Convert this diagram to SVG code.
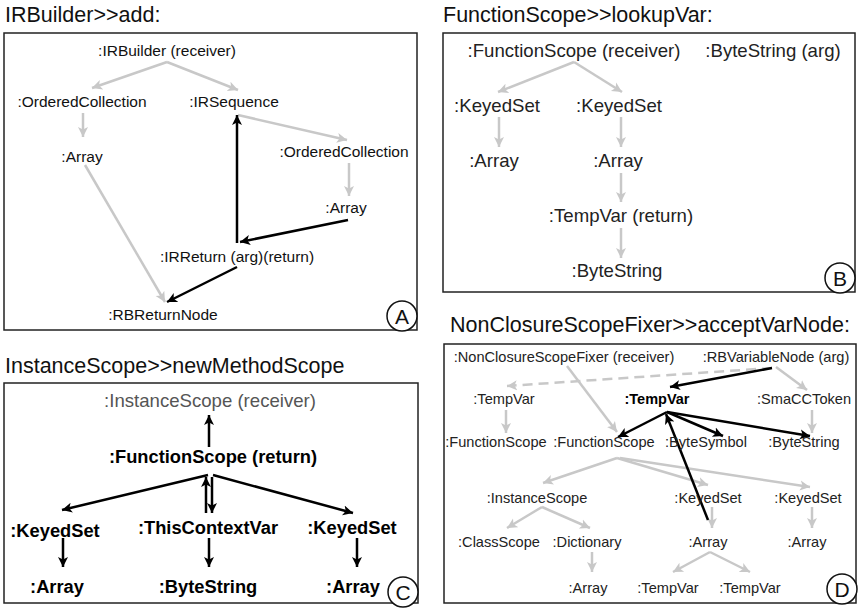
<svg xmlns="http://www.w3.org/2000/svg" width="859" height="608" viewBox="0 0 859 608">
<style>
.title{font-family:"Liberation Sans",Arial,sans-serif;font-size:21.5px;fill:#111}
.box{fill:#fff;stroke:#222;stroke-width:1.5}
.a{font-family:"Liberation Sans",Arial,sans-serif;font-size:15.5px;fill:#111;text-anchor:middle}
.b{font-family:"Liberation Sans",Arial,sans-serif;font-size:18.6px;fill:#222;text-anchor:middle}
.cr{font-family:"Liberation Sans",Arial,sans-serif;font-size:18.6px;fill:#555;text-anchor:middle}
.cb{font-family:"Liberation Sans",Arial,sans-serif;font-size:18.3px;font-weight:bold;fill:#000;text-anchor:middle}
.d{font-family:"Liberation Sans",Arial,sans-serif;font-size:14.6px;fill:#222;text-anchor:middle}
.db{font-family:"Liberation Sans",Arial,sans-serif;font-size:14.5px;font-weight:bold;fill:#000;text-anchor:middle}
.g{fill:none;stroke:#c8c8c8;stroke-width:2.5;marker-end:url(#ag)}
.gd{fill:none;stroke:#c8c8c8;stroke-width:2.5;stroke-dasharray:10,6;marker-end:url(#ag)}
.k{fill:none;stroke:#000;stroke-width:2.5;marker-end:url(#ak)}
.circ{fill:#fff;stroke:#111;stroke-width:1.5}
.lab{font-family:"Liberation Sans",Arial,sans-serif;font-size:21px;fill:#111;text-anchor:middle}
</style>
<defs>
<marker id="ag" markerUnits="userSpaceOnUse" markerWidth="12" markerHeight="12" refX="10" refY="5" orient="auto" viewBox="0 0 12 10">
<path d="M0,0 L10,5 L0,10 L2.5,5 z" fill="#c8c8c8"/>
</marker>
<marker id="ak" markerUnits="userSpaceOnUse" markerWidth="12" markerHeight="12" refX="10" refY="5" orient="auto" viewBox="0 0 12 10">
<path d="M0,0 L10,5 L0,10 L2.5,5 z" fill="#000"/>
</marker>
</defs>
<rect width="859" height="608" fill="#fff"/>

<!-- Panel frames and titles -->
<g id="panel-a">
<text class="title" x="5" y="22">IRBuilder&gt;&gt;add:</text>
<rect class="box" x="4" y="33" width="413" height="297"/>
</g>
<g id="panel-b">
<text class="title" x="443" y="22">FunctionScope&gt;&gt;lookupVar:</text>
<rect class="box" x="443" y="33" width="412" height="259"/>
</g>
<g id="panel-c">
<text class="title" x="5" y="373">InstanceScope&gt;&gt;newMethodScope</text>
<rect class="box" x="4" y="383" width="414" height="220"/>
</g>
<g id="panel-d">
<text class="title" x="450" y="332">NonClosureScopeFixer&gt;&gt;acceptVarNode:</text>
<rect class="box" x="444" y="344" width="412" height="259"/>
</g>

<g id="connectors">
<!-- A -->
<path class="g" d="M167,62 L92,88"/>
<path class="g" d="M167,62 L238,90"/>
<path class="g" d="M83,113 L83,137"/>
<path class="g" d="M238,115 L347,140"/>
<path class="g" d="M349,163 L349,196"/>
<path class="g" d="M85,165 L165,302"/>
<path class="k" d="M348,220 L240,242"/>
<path class="k" d="M237,243 L237,115"/>
<path class="k" d="M237,267 L167,302"/>
<!-- B -->
<path class="g" d="M574,62 L498,92"/>
<path class="g" d="M574,62 L622,92"/>
<path class="g" d="M499,117 L499,147"/>
<path class="g" d="M621,117 L621,147"/>
<path class="g" d="M621,173 L621,202"/>
<path class="g" d="M621,228 L621,258"/>
<!-- C -->
<path class="k" d="M209,447 L209,415"/>
<path class="k" d="M208,475 L62,510"/>
<path class="k" d="M213,475 L353,513"/>
<path class="k" d="M206,513 L206,477"/>
<path class="k" d="M212,477 L212,513"/>
<path class="k" d="M63,538 L63,567"/>
<path class="k" d="M209,538 L209,567"/>
<path class="k" d="M357,538 L357,567"/>
<!-- D -->
<path class="gd" d="M772,368 L507,386"/>
<path class="g" d="M776,367 L807,390"/>
<path class="k" d="M772,368 L670,387"/>
<path class="g" d="M567,366 L617,432"/>
<path class="g" d="M506,410 L506,433"/>
<path class="g" d="M812,410 L812,433"/>
<path class="g" d="M617,458 L543,483"/>
<path class="g" d="M617,458 L708,485"/>
<path class="g" d="M620,458 L810,487"/>
<path class="g" d="M712,507 L712,528"/>
<path class="g" d="M812,507 L812,528"/>
<path class="g" d="M542,507 L507,528"/>
<path class="g" d="M542,507 L590,528"/>
<path class="g" d="M592,552 L592,572"/>
<path class="g" d="M710,552 L673,572"/>
<path class="g" d="M710,552 L750,572"/>
<path class="k" d="M667,412 L618,437"/>
<path class="k" d="M667,412 L723,436"/>
<path class="k" d="M667,412 L810,436"/>
<path class="k" d="M708,520 L666,414"/>
</g>

<!-- Panel A nodes -->
<g id="a-irbuilder"><text class="a" x="167" y="56">:IRBuilder (receiver)</text></g>
<g id="a-orderedcollection1"><text class="a" x="82" y="107">:OrderedCollection</text></g>
<g id="a-irsequence"><text class="a" x="234" y="107">:IRSequence</text></g>
<g id="a-array1"><text class="a" x="82" y="161.5">:Array</text></g>
<g id="a-orderedcollection2"><text class="a" x="344" y="157">:OrderedCollection</text></g>
<g id="a-array2"><text class="a" x="346" y="213">:Array</text></g>
<g id="a-irreturn"><text class="a" x="237" y="261.5">:IRReturn (arg)(return)</text></g>
<g id="a-rbreturnnode"><text class="a" x="163" y="320">:RBReturnNode</text></g>
<g id="a-label"><circle class="circ" cx="402" cy="316" r="15"/><text class="lab" x="402" y="323.5">A</text></g>

<!-- Panel B nodes -->
<g id="b-functionscope"><text class="b" x="574" y="57">:FunctionScope (receiver)</text></g>
<g id="b-bytestring-arg"><text class="b" x="773" y="57">:ByteString (arg)</text></g>
<g id="b-keyedset1"><text class="b" x="497" y="111.5">:KeyedSet</text></g>
<g id="b-keyedset2"><text class="b" x="619" y="111.5">:KeyedSet</text></g>
<g id="b-array1"><text class="b" x="494" y="166.5">:Array</text></g>
<g id="b-array2"><text class="b" x="618" y="166.5">:Array</text></g>
<g id="b-tempvar"><text class="b" x="621" y="221.5">:TempVar (return)</text></g>
<g id="b-bytestring"><text class="b" x="617" y="277">:ByteString</text></g>
<g id="b-label"><circle class="circ" cx="840" cy="278" r="15"/><text class="lab" x="840" y="285.5">B</text></g>

<!-- Panel C nodes -->
<g id="c-instancescope"><text class="cr" x="210" y="407">:InstanceScope (receiver)</text></g>
<g id="c-functionscope"><text class="cb" x="213" y="462.5">:FunctionScope (return)</text></g>
<g id="c-keyedset1"><text class="cb" x="55" y="537">:KeyedSet</text></g>
<g id="c-thiscontextvar"><text class="cb" x="208" y="534">:ThisContextVar</text></g>
<g id="c-keyedset2"><text class="cb" x="352" y="534">:KeyedSet</text></g>
<g id="c-array1"><text class="cb" x="57" y="592.5">:Array</text></g>
<g id="c-bytestring"><text class="cb" x="208" y="592.5">:ByteString</text></g>
<g id="c-array2"><text class="cb" x="353" y="592.5">:Array</text></g>
<g id="c-label"><circle class="circ" cx="403" cy="592" r="15"/><text class="lab" x="403" y="599.5">C</text></g>

<!-- Panel D nodes -->
<g id="d-nonclosurescopefixer"><text class="d" x="564" y="361.5">:NonClosureScopeFixer (receiver)</text></g>
<g id="d-rbvariablenode"><text class="d" x="776" y="361.5">:RBVariableNode (arg)</text></g>
<g id="d-tempvar1"><text class="d" x="504" y="404">:TempVar</text></g>
<g id="d-tempvar-main"><text class="db" x="657" y="404">:TempVar</text></g>
<g id="d-smacctoken"><text class="d" x="804" y="404">:SmaCCToken</text></g>
<g id="d-functionscope1"><text class="d" x="496" y="446.5">:FunctionScope</text></g>
<g id="d-functionscope2"><text class="d" x="604" y="446.5">:FunctionScope</text></g>
<g id="d-bytesymbol"><text class="d" x="706" y="446.5">:ByteSymbol</text></g>
<g id="d-bytestring"><text class="d" x="804" y="446.5">:ByteString</text></g>
<g id="d-instancescope"><text class="d" x="537" y="502.5">:InstanceScope</text></g>
<g id="d-keyedset1"><text class="d" x="708" y="502.5">:KeyedSet</text></g>
<g id="d-keyedset2"><text class="d" x="808" y="502.5">:KeyedSet</text></g>
<g id="d-classscope"><text class="d" x="499" y="547">:ClassScope</text></g>
<g id="d-dictionary"><text class="d" x="587" y="547">:Dictionary</text></g>
<g id="d-array1"><text class="d" x="708" y="547">:Array</text></g>
<g id="d-array2"><text class="d" x="807" y="547">:Array</text></g>
<g id="d-array3"><text class="d" x="588" y="592.5">:Array</text></g>
<g id="d-tempvar2"><text class="d" x="668" y="592.5">:TempVar</text></g>
<g id="d-tempvar3"><text class="d" x="750" y="592.5">:TempVar</text></g>
<g id="d-label"><circle class="circ" cx="842" cy="589" r="15"/><text class="lab" x="842" y="596.5">D</text></g>
</svg>
